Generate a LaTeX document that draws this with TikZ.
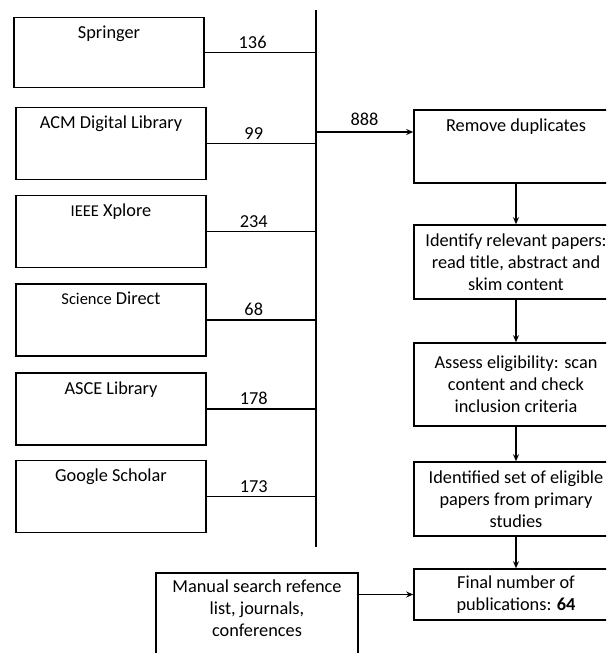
\documentclass[tikz,border=0pt]{standalone}
\usepackage{fontspec}
\setmainfont{Carlito}
\usetikzlibrary{arrows.meta}

\begin{document}
\begin{tikzpicture}[x=1pt, y=-1pt, line width=1.6pt,
		every node/.style={font=\fontsize{18.3}{22}\selectfont},
		srcbox/.style={draw, minimum width=190pt, minimum height=72pt, inner sep=0pt},
		stepbox/.style={draw, minimum width=204pt, align=center, inner sep=2pt},
		boxtitle/.style={anchor=north, yshift=-5pt, align=center},
		count/.style={above, pos=0.43},
		flow/.style={-{Stealth[length=7pt, width=6pt]}}]
			%%%%% START %%%%%
			\useasboundingbox (0, 0) rectangle (606, 653);
			\clip (0, 0) rectangle (606, 653);
			
			% sources
			\node[srcbox, minimum height=70pt, label={[boxtitle]north:Springer}] (spr) at (109, 52.5) {};
			\node[srcbox, label={[boxtitle]north:ACM Digital Library}] (acm) at (111, 143.5) {};
			\node[srcbox, label={[boxtitle]north:{\fontsize{16.5}{18}\selectfont IEEE} Xplore}] (ieee) at (111, 231.5) {};
			\node[srcbox, label={[boxtitle]north:{\fontsize{16.5}{18}\selectfont Science} Direct}] (sd) at (111, 320) {};
			\node[srcbox, label={[boxtitle]north:ASCE Library}] (asce) at (111, 409) {};
			\node[srcbox, label={[boxtitle]north:Google Scholar}] (gs) at (111, 496.5) {};
			
			% collecting line
			\coordinate (bustop) at (316, 10);
			\coordinate (busbot) at (316, 547);
			\coordinate (split) at (316, 132);
			\draw (bustop) -- (busbot);
			
			\draw (spr.east) -- (spr.east -| bustop) node[count] {136};
			\draw (acm.east) -- (acm.east -| bustop) node[count] {99};
			\draw (ieee.east) -- (ieee.east -| bustop) node[count] {234};
			\draw (sd.east) -- (sd.east -| bustop) node[count] {68};
			\draw (asce.east) -- (asce.east -| bustop) node[count] {178};
			\draw (gs.east) -- (gs.east -| bustop) node[count] {173};
			
			% screening steps
			\node[stepbox, minimum height=73pt, label={[boxtitle]north:Remove duplicates}] (rd) at (516, 146.5) {};
			\node[stepbox, minimum height=74pt] (irp) at (516, 262) {Identify relevant papers:\\read title, abstract and\\skim content};
			\node[stepbox, minimum height=83pt] (ae) at (516, 384.5) {Assess eligibility: scan\\content and check\\inclusion criteria};
			\node[stepbox, minimum height=74pt] (isp) at (516, 499) {Identified set of eligible\\papers from primary\\studies};
			\node[stepbox, minimum height=51pt] (fin) at (516, 594.5) {Final number of\\publications: \textbf{64}};
			\node[draw, minimum width=202pt, minimum height=120pt, inner sep=0pt,
				label={[boxtitle, yshift=2pt]north:Manual search refence\\list, journals,\\conferences}] (man) at (257, 633) {};
			
			\draw[flow] (split) -- (split -| rd.west) node[above=2pt, midway] {888};
			\draw[flow] (rd) -- (irp);
			\draw[flow] (irp) -- (ae);
			\draw[flow] (ae) -- (isp);
			\draw[flow] (isp) -- (fin);
			\draw[flow] (fin.west -| man.east) -- (fin.west);
			
			%%%%% END %%%%%
\end{tikzpicture}
\end{document}
